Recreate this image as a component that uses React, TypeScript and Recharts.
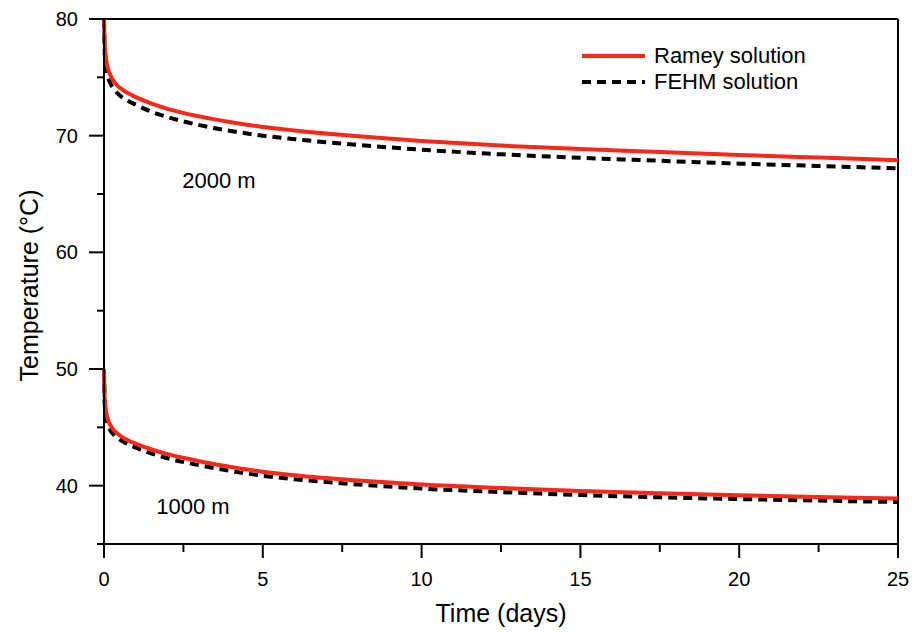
import React from "react";
import { LineChart, Line, XAxis, YAxis, ReferenceLine, ReferenceDot, Legend } from "recharts";

const FONT = "'Liberation Sans', Arial, sans-serif";
const RED = "#f8281a";

// time in days
const times = [0, 0.02, 0.05, 0.1, 0.2, 0.35, 0.5, 0.75, 1, 1.5, 2, 3, 4, 5, 6, 8, 10, 12.5, 15, 17.5, 20, 22.5, 25];

// temperatures (°C)
const ramey2000 = [80, 78.0, 76.9, 76.0, 75.2, 74.5, 74.1, 73.65, 73.3, 72.75, 72.3, 71.65, 71.15, 70.75, 70.45, 69.95, 69.55, 69.15, 68.85, 68.6, 68.35, 68.12, 67.9];
const fehm2000 = [80, 77.3, 76.2, 75.3, 74.5, 73.85, 73.45, 73.0, 72.65, 72.05, 71.6, 70.9, 70.4, 70.0, 69.7, 69.2, 68.8, 68.4, 68.1, 67.85, 67.6, 67.4, 67.2];
const ramey1000 = [50, 47.6, 46.6, 45.9, 45.2, 44.65, 44.3, 43.9, 43.6, 43.1, 42.7, 42.1, 41.6, 41.2, 40.9, 40.45, 40.1, 39.8, 39.55, 39.35, 39.17, 39.03, 38.9];
const fehm1000 = [50, 47.2, 46.1, 45.4, 44.75, 44.25, 43.95, 43.55, 43.25, 42.75, 42.35, 41.75, 41.25, 40.85, 40.55, 40.1, 39.75, 39.45, 39.2, 39.0, 38.85, 38.72, 38.6];

const xTicks = [0, 2.5, 5, 7.5, 10, 12.5, 15, 17.5, 20, 22.5, 25];
const yTicks = [35, 40, 45, 50, 55, 60, 65, 70, 75, 80];

const legendItems = [
  { name: "Ramey solution", color: RED, dash: undefined },
  { name: "FEHM solution", color: "#000", dash: "9 6" },
];

const rows = times.map((t, i) => ({
  t,
  ramey2000: ramey2000[i],
  fehm2000: fehm2000[i],
  ramey1000: ramey1000[i],
  fehm1000: fehm1000[i],
}));

function XTick({ x, y, payload }: any) {
  const major = payload.value % 5 === 0;
  return (
    <g>
      <line x1={x} x2={x} y1={y} y2={y + (major ? 14 : 8)} stroke="#000" strokeWidth={2} />
      {major && (
        <text x={x} y={y + 35} textAnchor="middle" dominantBaseline="central" fontSize={20} fill="#000" fontFamily={FONT}>
          {payload.value}
        </text>
      )}
    </g>
  );
}

function YTick({ x, y, payload }: any) {
  const major = payload.value % 10 === 0;
  return (
    <g>
      <line x1={x - (major ? 15 : 7)} x2={x} y1={y} y2={y} stroke="#000" strokeWidth={2} />
      {major && (
        <text x={x - 26} y={y} textAnchor="end" dominantBaseline="central" fontSize={20} fill="#000" fontFamily={FONT}>
          {payload.value}
        </text>
      )}
    </g>
  );
}

function LegendBox() {
  return (
    <div style={{ fontFamily: FONT, fontSize: 22, color: "#000" }}>
      {legendItems.map((it) => (
        <div key={it.name} style={{ display: "flex", alignItems: "center", height: 26 }}>
          <svg width={66} height={10}>
            <line x1={2} x2={65} y1={5} y2={5} stroke={it.color} strokeWidth={4} strokeDasharray={it.dash} />
          </svg>
          <span style={{ marginLeft: 8, whiteSpace: "nowrap" }}>{it.name}</span>
        </div>
      ))}
    </div>
  );
}

export default function App() {
  return (
    <div style={{ position: "absolute", left: 0, top: 0, background: "#fff" }}>
      <LineChart width={915} height={632} data={rows} margin={{ top: 19, right: 17, bottom: 28, left: 0 }}>
        <XAxis
          dataKey="t"
          type="number"
          domain={[0, 25]}
          ticks={xTicks}
          height={60}
          tickSize={0}
          tickMargin={0}
          tickLine={false}
          tick={<XTick />}
          interval={0}
          axisLine={{ stroke: "#000", strokeWidth: 2 }}
          label={{
            content: ({ viewBox }: any) => (
              <text x={viewBox.x + viewBox.width / 2} y={viewBox.y + 69} textAnchor="middle" dominantBaseline="central" fontSize={25} fill="#000" fontFamily={FONT}>
                Time (days)
              </text>
            ),
          }}
        />
        <YAxis
          type="number"
          domain={[35, 80]}
          ticks={yTicks}
          width={104}
          tickSize={0}
          tickMargin={0}
          tickLine={false}
          tick={<YTick />}
          interval={0}
          axisLine={{ stroke: "#000", strokeWidth: 2 }}
          label={{
            content: ({ viewBox }: any) => {
              const cx = viewBox.x + 29;
              const cy = viewBox.y + viewBox.height / 2 + 4;
              return (
                <text x={cx} y={cy} transform={`rotate(-90, ${cx}, ${cy})`} textAnchor="middle" dominantBaseline="central" fontSize={25} fill="#000" fontFamily={FONT}>
                  Temperature (°C)
                </text>
              );
            },
          }}
        />
        <ReferenceLine y={80} stroke="#000" strokeWidth={2} />
        <ReferenceLine x={25} stroke="#000" strokeWidth={2} />
        <Line dataKey="fehm2000" type="monotone" stroke="#000" strokeWidth={4} strokeDasharray="9 6" dot={false} isAnimationActive={false} />
        <Line dataKey="ramey2000" type="monotone" stroke={RED} strokeWidth={4} dot={false} isAnimationActive={false} />
        <Line dataKey="fehm1000" type="monotone" stroke="#000" strokeWidth={4} strokeDasharray="9 6" dot={false} isAnimationActive={false} />
        <Line dataKey="ramey1000" type="monotone" stroke={RED} strokeWidth={4} dot={false} isAnimationActive={false} />
        <ReferenceDot x={3.62} y={66.2} r={0} fill="none" stroke="none" label={{ value: "2000 m", position: "center", fontSize: 22, fill: "#000", fontFamily: FONT }} />
        <ReferenceDot x={2.8} y={38.2} r={0} fill="none" stroke="none" label={{ value: "1000 m", position: "center", fontSize: 22, fill: "#000", fontFamily: FONT }} />
        <Legend layout="vertical" align="center" verticalAlign="middle" wrapperStyle={{ left: 580, top: 43, width: 260 }} content={() => <LegendBox />} />
      </LineChart>
    </div>
  );
}
